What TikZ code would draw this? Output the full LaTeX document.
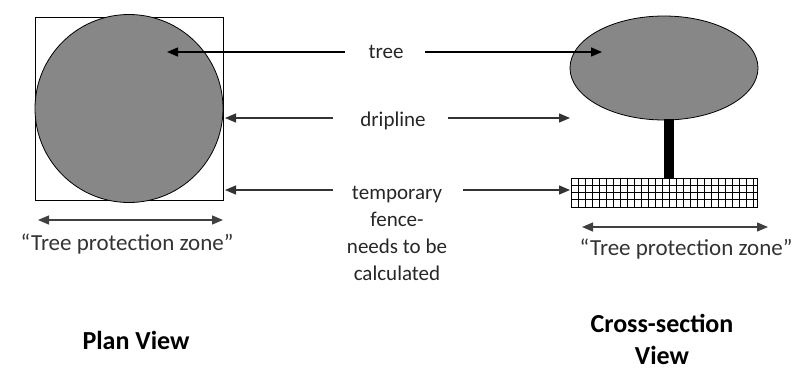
\documentclass[tikz,border=0pt]{standalone}
\usepackage{fontspec}
\setmainfont{Carlito}
\usetikzlibrary{arrows.meta,shapes.geometric}
\begin{document}
\begin{tikzpicture}[x=1pt,y=-1pt,
  lbl/.style={font=\fontsize{21}{27}\selectfont, text=black!85, align=center, inner sep=0pt},
  zone/.style={font=\fontsize{23}{26}\selectfont, text=black!80, inner sep=0pt},
  ttl/.style={font=\bfseries\fontsize{26}{32}\selectfont, align=center, inner sep=0pt},
  arr/.style={line width=1.3pt, draw=black!80, -{Triangle[length=11pt,width=9pt]}},
  darr/.style={line width=1.3pt, draw=black!75, {Triangle[length=11pt,width=9pt]}-{Triangle[length=11pt,width=9pt]}},
  crown/.style={fill=black!47, draw=black, line width=0.8pt}]
\useasboundingbox (0,0) rectangle (800,370);
% plan view
\node[draw=black, line width=1pt, minimum width=188pt, minimum height=183pt, inner sep=0pt] (sq) at (129,108.5) {};
\node[crown, circle, minimum size=188pt, inner sep=0pt] (pc) at (129,108.5) {};
\coordinate (ptree) at (167,52);
% cross-section
\node[crown, ellipse, minimum width=188pt, minimum height=104pt, inner sep=0pt] (ell) at (664,68) {};
\coordinate (xtree) at (602,52);
\fill[black] (664,119) rectangle (674,178);
\draw[line width=0.8pt] (571,178) rectangle (757,207);
\foreach \x in {578,585,...,757} \draw[line width=0.7pt] (\x,178) -- (\x,207);
\foreach \y in {185.25,192.5,199.75} \draw[line width=0.7pt] (571,\y) -- (757,\y);
\coordinate (drip) at (570,118);
\coordinate (fence) at (570,190);
% labels
\node[lbl] (tree) at (386,52) {tree};
\node[lbl] (dripline) at (393,121) {dripline};
\node[lbl, anchor=north] (temp) at (397,186) {temporary\\fence-\\needs to be\\calculated};
% arrows
\draw[arr, draw=black] (345,52) -- (ptree);
\draw[arr, draw=black] (425,52) -- (xtree);
\draw[arr] (333,118) -- (225,118);
\draw[arr] (448,118) -- (drip);
\draw[arr] (333,190) -- (225,190);
\draw[arr] (463,190) -- (fence);
% zone arrows
\coordinate (z1a) at (38,220); \coordinate (z1b) at (223,220);
\coordinate (z2a) at (582,227); \coordinate (z2b) at (768,227);
\draw[darr] (z1a) -- (z1b);
\draw[darr] (z2a) -- (z2b);
\node[zone] (zone1) at (127,244) {“Tree protection zone”};
\node[zone] (zone2) at (686,249) {“Tree protection zone”};
% titles
\node[ttl] (plan) at (136,340) {Plan View};
\node[ttl] (cross) at (662,339) {Cross-section\\View};
\end{tikzpicture}
\end{document}
